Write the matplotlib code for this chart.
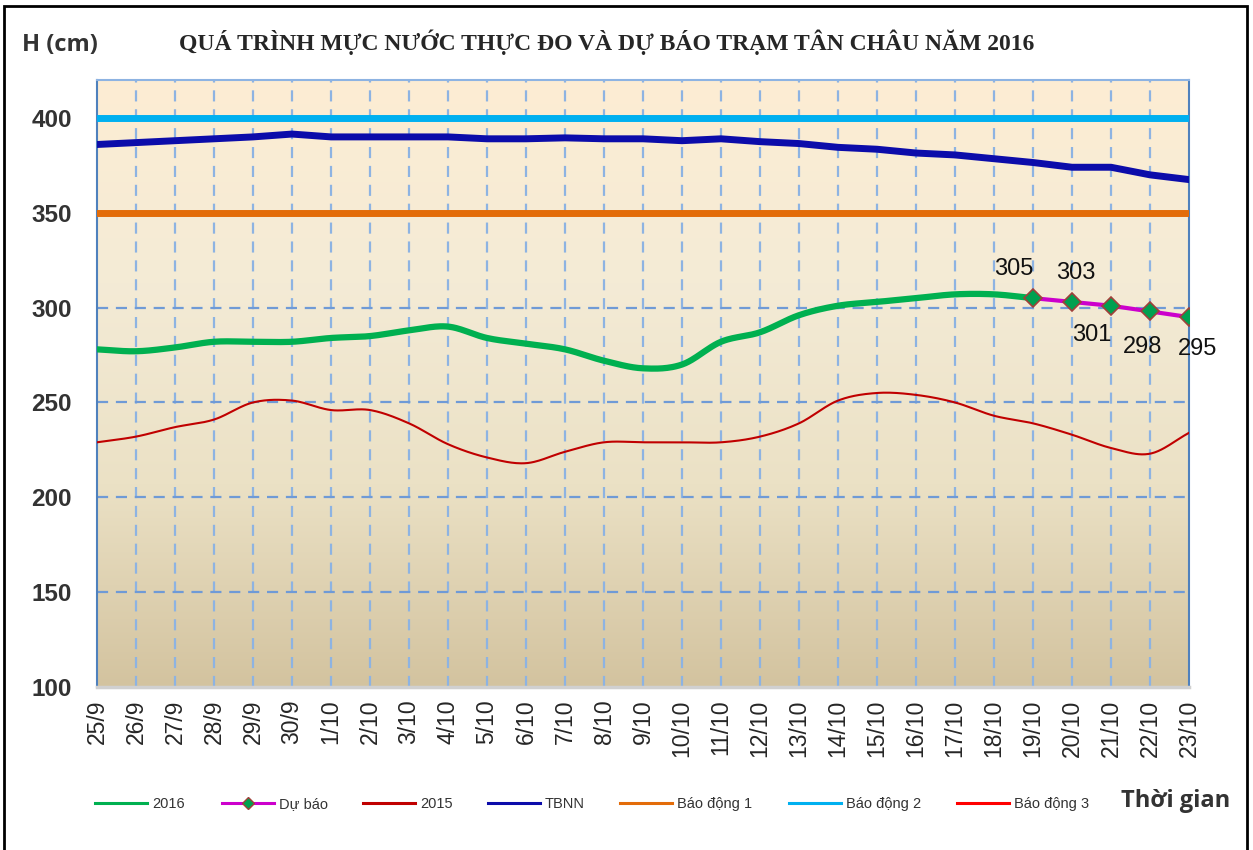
import numpy as np
import matplotlib.pyplot as plt
from matplotlib.colors import LinearSegmentedColormap
from matplotlib.patches import Rectangle
from matplotlib.lines import Line2D

# ngay (25/9 -> 23/10)
days = ['25/9', '26/9', '27/9', '28/9', '29/9', '30/9',
        '1/10', '2/10', '3/10', '4/10', '5/10', '6/10', '7/10', '8/10', '9/10', '10/10',
        '11/10', '12/10', '13/10', '14/10', '15/10', '16/10', '17/10', '18/10', '19/10',
        '20/10', '21/10', '22/10', '23/10']

# muc nuoc thuc do 2016 (25/9 -> 19/10)
h2016 = [278, 277, 279, 282, 282, 282, 284, 285, 288, 290, 284, 281, 278, 272, 268,
         270, 282, 287, 296, 301, 303, 305, 307, 307, 305]
# du bao (19/10 -> 23/10)
du_bao = [305, 303, 301, 298, 295]
# nam 2015
h2015 = [229, 232, 237, 241, 250, 251, 246, 246, 239, 228, 221, 218, 224, 229, 229,
         229, 229, 232, 239, 251, 255, 254, 250, 243, 239, 233, 226, 223, 234]
# trung binh nhieu nam
tbnn = [386, 387, 388, 389, 390, 391.5, 390, 390, 390, 390, 389, 389, 389.5, 389, 389,
        388, 389, 387.5, 386.5, 384.5, 383.5, 381.5, 380.5, 378.5, 376.5, 374, 374, 370, 367.5]
bd1 = 350
bd2 = 400
bd3 = 450

W, H = 1253, 850


def smooth(xs, ys, n=24):
    # duong cong kieu Excel (Catmull-Rom)
    xs = np.asarray(xs, float)
    ys = np.asarray(ys, float)
    px = np.concatenate([[2 * xs[0] - xs[1]], xs, [2 * xs[-1] - xs[-2]]])
    py = np.concatenate([[2 * ys[0] - ys[1]], ys, [2 * ys[-1] - ys[-2]]])
    ox, oy = [], []
    t = np.linspace(0, 1, n, endpoint=False)
    for i in range(1, len(px) - 2):
        p0, p1, p2, p3 = py[i - 1], py[i], py[i + 1], py[i + 2]
        q0, q1, q2, q3 = px[i - 1], px[i], px[i + 1], px[i + 2]
        c1y, c2y = p1 + (p2 - p0) / 6, p2 - (p3 - p1) / 6
        c1x, c2x = q1 + (q2 - q0) / 6, q2 - (q3 - q1) / 6
        b0, b1, b2, b3 = (1 - t) ** 3, 3 * t * (1 - t) ** 2, 3 * t ** 2 * (1 - t), t ** 3
        ox.extend(b0 * q1 + b1 * c1x + b2 * c2x + b3 * q2)
        oy.extend(b0 * p1 + b1 * c1y + b2 * c2y + b3 * p2)
    ox.append(xs[-1])
    oy.append(ys[-1])
    return np.array(ox), np.array(oy)


fig = plt.figure(figsize=(W / 100, H / 100), dpi=100)
ax = fig.add_axes([97 / W, 163 / H, 1092 / W, 607 / H])

x = np.arange(len(days))
ymin, ymax = 100, 420

# nen chuyen mau
cmap = LinearSegmentedColormap.from_list('bg', ['#D3C39F', '#EBE1C5', '#F4EBD6', '#FDEDD3'])
grad = np.linspace(0, 1, 256).reshape(-1, 1)
ax.imshow(grad, extent=[0, len(days) - 1, ymin, ymax], origin='lower', aspect='auto',
          cmap=cmap, zorder=0)

for xi in x[1:-1]:
    ax.axvline(xi, color='#8DB3E2', lw=1.6, ls=(0, (5, 3.5)), zorder=1)
for yv in [150, 200, 250, 300, 350, 400]:
    ax.axhline(yv, color='#6F9AD6', lw=1.6, ls=(0, (5, 3.5)), zorder=1)

sx, sy = smooth(x[:len(h2016)], h2016)
ax.plot(sx, sy, color='#00B050', lw=4.5, zorder=5, solid_capstyle='round')
ax.plot(x[len(h2016) - 1:], du_bao, color='#CC00CC', lw=3, marker='D', ms=9,
        mfc='#00A050', mec='#A0403A', mew=1.2, zorder=6)
sx, sy = smooth(x, h2015)
ax.plot(sx, sy, color='#C00000', lw=1.5, zorder=4)
ax.plot(x, tbnn, color='#0C0CAA', lw=5, zorder=4)
ax.plot([x[0], x[-1]], [bd1, bd1], color='#E36C09', lw=5, zorder=3)
ax.plot([x[0], x[-1]], [bd2, bd2], color='#00B0F0', lw=5, zorder=3)
ax.plot([x[0], x[-1]], [bd3, bd3], color='#FF0000', lw=3, zorder=3)

# nhan du bao
offs = [(-14, 21), (3, 21), (-14, -21), (-5, -25.5), (6.5, -23)]
for xi, v, (dx, dy) in zip(x[len(h2016) - 1:], du_bao, offs):
    ax.annotate(str(v), (xi, v), xytext=(dx, dy), textcoords='offset points',
                ha='center', va='center', fontsize=17, family='Liberation Sans', color='#111111')

ax.set_xlim(0, len(days) - 1)
ax.set_ylim(ymin, ymax)
ax.set_xticks(x)
ax.set_xticklabels(days, rotation=90, fontsize=16.5, family='Liberation Sans', color='#262626')
ax.set_yticks([100, 150, 200, 250, 300, 350, 400])
ax.set_yticklabels(['100', '150', '200', '250', '300', '350', '400'], fontsize=17.5,
                   fontweight='bold', family='Liberation Sans', color='#333333')
ax.tick_params(axis='x', length=0, pad=9)
ax.tick_params(axis='y', length=0, pad=18)
for s in ['left', 'right']:
    ax.spines[s].set_color('#4F81BD')
    ax.spines[s].set_linewidth(1.5)
ax.spines['top'].set_color('#8DB3E2')
ax.spines['top'].set_linewidth(1.5)
ax.spines['bottom'].set_color('#D0D0D0')
ax.spines['bottom'].set_linewidth(2.5)

fig.text(22 / W, 1 - 45 / H, 'H (cm)', fontsize=17, fontweight='bold',
         family='Open Sans', color='#333333', va='center', ha='left')
fig.text(607 / W, 1 - 42 / H, 'QUÁ TRÌNH MỰC NƯỚC THỰC ĐO VÀ DỰ BÁO TRẠM TÂN CHÂU NĂM 2016',
         fontsize=17, fontweight='bold', family='Liberation Serif', color='#262626',
         ha='center', va='center')
fig.text(1176 / W, 1 - 801 / H, 'Thời gian', fontsize=17, fontweight='bold',
         family='Open Sans', color='#333333', ha='center', va='center')

# chu giai
leg_names = ['2016', 'Dự báo', '2015', 'TBNN', 'Báo động 1', 'Báo động 2', 'Báo động 3']
leg_cols = ['#00B050', '#CC00CC', '#C00000', '#0C0CAA', '#E36C09', '#00B0F0', '#FF0000']
leg_x = [95, 222, 363, 488, 620, 789, 957]
ly = 1 - 803 / H
for name, c, lx in zip(leg_names, leg_cols, leg_x):
    fig.add_artist(Line2D([lx / W, (lx + 52) / W], [ly, ly], color=c, lw=2.2,
                          transform=fig.transFigure))
    if name == 'Dự báo':
        fig.add_artist(Line2D([(lx + 26) / W], [ly], marker='D', ms=6, mfc='#00A050',
                              mec='#A0403A', mew=1, transform=fig.transFigure))
    fig.text((lx + 57) / W, 1 - 808 / H, name, fontsize=10.5, family='Liberation Sans',
             color='#333333', ha='left', va='baseline')

fig.add_artist(Rectangle((4 / W, -0.01), 1243 / W, 1 - 6 / H + 0.01,
                         transform=fig.transFigure, fill=False, ec='black', lw=2))

fig.savefig('out.png', dpi=100)
